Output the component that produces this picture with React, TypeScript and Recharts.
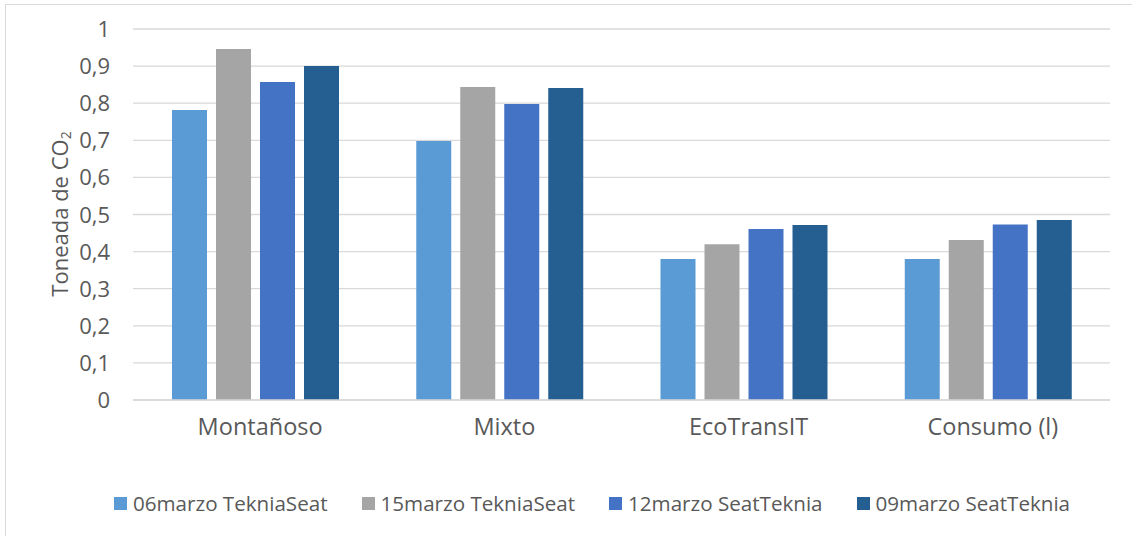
import { BarChart, Bar, XAxis, YAxis, CartesianGrid, Legend, Label } from "recharts";

const categories = ["Montañoso", "Mixto", "EcoTransIT", "Consumo (l)"];
const seriesNames = [
  "06marzo TekniaSeat",
  "15marzo TekniaSeat",
  "12marzo SeatTeknia",
  "09marzo SeatTeknia",
];
const march06 = [0.782, 0.698, 0.38, 0.38];
const march15 = [0.946, 0.844, 0.42, 0.431];
const march12 = [0.857, 0.798, 0.461, 0.473];
const march09 = [0.9, 0.841, 0.472, 0.485];
const yTicks = [0, 0.1, 0.2, 0.3, 0.4, 0.5, 0.6, 0.7, 0.8, 0.9, 1];

const COLORS = ["#5B9BD5", "#A5A5A5", "#4472C4", "#255E91"];
const FONT = "'Open Sans', sans-serif";
const TEXT = "#595959";
const GRID = "#d9d9d9";

const data = categories.map((name, i) => ({
  name,
  s0: march06[i],
  s1: march15[i],
  s2: march12[i],
  s3: march09[i],
}));

const fmt = (v: number) => (v === 0 || v === 1 ? String(v) : v.toFixed(1).replace(".", ","));

function XTick({ x, y, payload }: any) {
  return (
    <text x={x + 5} y={y + 35} textAnchor="middle" fill={TEXT} fontSize={23.5} fontFamily={FONT}>
      {payload.value}
    </text>
  );
}

function YTick({ y, payload }: any) {
  return (
    <text x={110} y={y + 8} textAnchor="end" fill={TEXT} fontSize={22} fontFamily={FONT}>
      {fmt(payload.value)}
    </text>
  );
}

function YLabel() {
  return (
    <text
      x={59}
      y={214}
      transform="rotate(-90, 59, 214)"
      textAnchor="middle"
      dominantBaseline="central"
      fill={TEXT}
      fontSize={22}
      fontFamily={FONT}
    >
      Toneada de CO
      <tspan fontSize={14} dy={6}>
        2
      </tspan>
    </text>
  );
}

function LegendBox() {
  return (
    <div
      style={{
        display: "flex",
        alignItems: "center",
        height: 40,
        paddingLeft: 114,
        gap: 34,
        fontFamily: FONT,
        fontSize: 20.6,
        color: TEXT,
        whiteSpace: "nowrap",
      }}
    >
      {seriesNames.map((n, i) => (
        <div key={n} style={{ display: "flex", alignItems: "center", gap: 6 }}>
          <span style={{ width: 13, height: 13, background: COLORS[i], display: "inline-block" }} />
          <span>{n}</span>
        </div>
      ))}
    </div>
  );
}

export default function App() {
  return (
    <div style={{ position: "absolute", left: 0, top: 0, width: 1132, height: 536, overflow: "hidden", background: "#fff" }}>
      <div
        style={{
          position: "absolute",
          left: 5,
          top: 4,
          width: 1140,
          height: 540,
          border: `1px solid ${GRID}`,
        }}
      />
      <BarChart
        width={1132}
        height={536}
        data={data}
        margin={{ top: 29, right: 22, left: 0, bottom: 13 }}
        barSize={35}
        barGap={9}
      >
        <CartesianGrid vertical={false} stroke={GRID} strokeWidth={1.3} />
        <XAxis
          dataKey="name"
          height={83}
          tickSize={0}
          tickMargin={0}
          tickLine={false}
          axisLine={{ stroke: GRID, strokeWidth: 1.3 }}
          tick={<XTick />}
          interval={0}
        />
        <YAxis
          width={133}
          domain={[0, 1]}
          ticks={yTicks}
          interval={0}
          axisLine={false}
          tickLine={false}
          tick={<YTick />}
        >
          <Label content={<YLabel />} />
        </YAxis>
        <Legend
          verticalAlign="bottom"
          content={<LegendBox />}
          wrapperStyle={{ left: 0, width: 1132, height: 40, bottom: 13 }}
        />
        <Bar dataKey="s0" name={seriesNames[0]} fill={COLORS[0]} isAnimationActive={false} />
        <Bar dataKey="s1" name={seriesNames[1]} fill={COLORS[1]} isAnimationActive={false} />
        <Bar dataKey="s2" name={seriesNames[2]} fill={COLORS[2]} isAnimationActive={false} />
        <Bar dataKey="s3" name={seriesNames[3]} fill={COLORS[3]} isAnimationActive={false} />
      </BarChart>
    </div>
  );
}
